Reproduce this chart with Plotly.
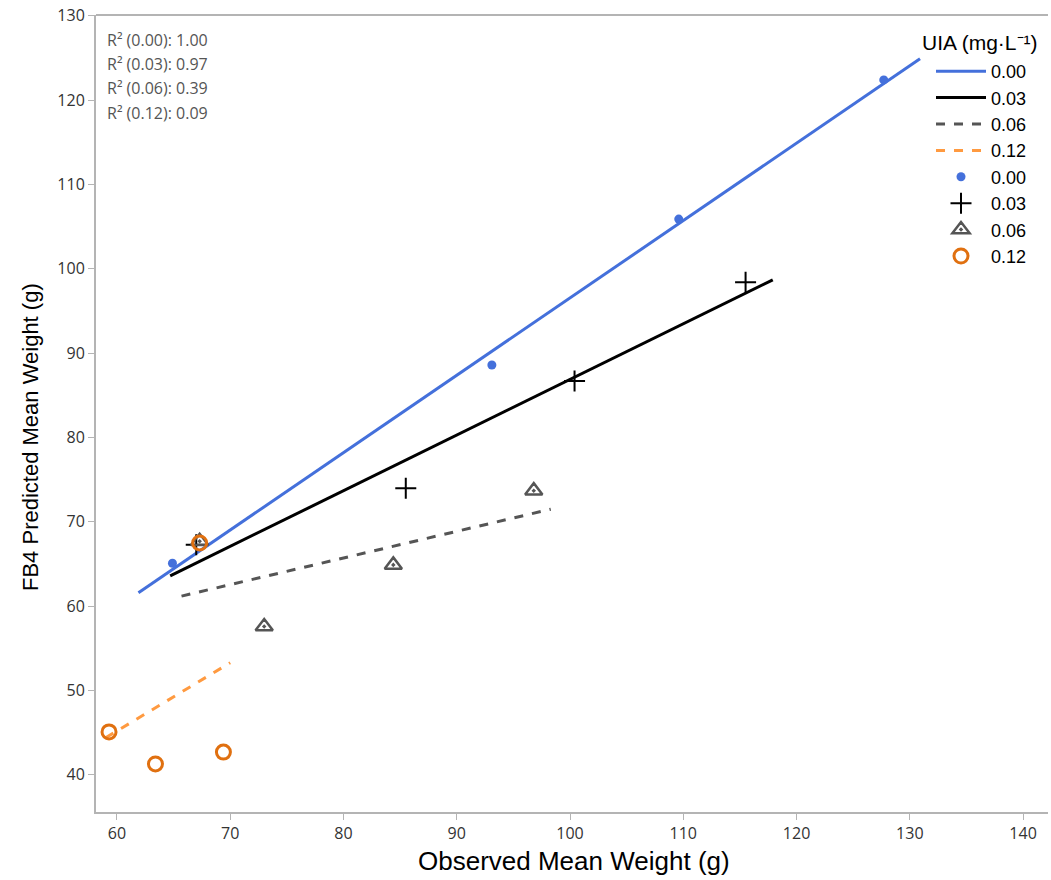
import plotly.graph_objects as go

groups = ["0.00", "0.03", "0.06", "0.12"]

obs_000 = [64.9, 93.1, 109.6, 127.7]
pred_000 = [65.1, 88.6, 105.9, 122.4]
obs_003 = [67.0, 85.5, 100.4, 115.5]
pred_003 = [67.3, 74.0, 86.7, 98.4]
obs_006 = [67.3, 73.0, 84.4, 96.8]
pred_006 = [67.7, 57.6, 64.9, 73.7]
obs_012 = [59.3, 63.4, 69.4, 67.3]
pred_012 = [45.1, 41.3, 42.7, 67.5]

fit_x_000 = [61.9, 130.9]
fit_y_000 = [61.6, 124.9]
fit_x_003 = [64.7, 117.9]
fit_y_003 = [63.6, 98.7]
fit_x_006 = [65.7, 98.3]
fit_y_006 = [61.2, 71.5]
fit_x_012 = [59.0, 70.0]
fit_y_012 = [44.4, 53.3]

r2_values = ["1.00", "0.97", "0.39", "0.09"]

x_ticks = [60, 70, 80, 90, 100, 110, 120, 130, 140]
y_ticks = [40, 50, 60, 70, 80, 90, 100, 110, 120, 130]

W, H = 1051, 880
ML, MR, MT, MB = 96, 3, 15, 68
PW, PH = W - ML - MR, H - MT - MB


def px_x(p):
    return (p - ML) / PW


def px_y(p):
    return 1 - (p - MT) / PH


fig = go.Figure()

line_styles = [
    (fit_x_000, fit_y_000, "#4470DB", "solid"),
    (fit_x_003, fit_y_003, "#000000", "solid"),
    (fit_x_006, fit_y_006, "#555555", "dash"),
    (fit_x_012, fit_y_012, "#FF9A40", "dash"),
]
for g, (fx, fy, c, d) in zip(groups, line_styles):
    fig.add_trace(go.Scatter(x=fx, y=fy, mode="lines", name=g,
                             line=dict(color=c, width=3, dash=d)))

marker_styles = [
    (obs_000, pred_000, dict(symbol="circle", size=9, color="#4470DB")),
    (obs_003, pred_003, dict(symbol="cross-thin-open", size=15, color="#000000",
                             line=dict(width=2, color="#000000"))),
    (obs_006, pred_006, dict(symbol="triangle-up-open-dot", size=15, color="#555555",
                             line=dict(width=2.5, color="#555555"))),
    (obs_012, pred_012, dict(symbol="circle-open", size=14, color="#E07010",
                             line=dict(width=3, color="#E07010"))),
]
for g, (ox, oy, m) in zip(groups, marker_styles):
    fig.add_trace(go.Scatter(x=ox, y=oy, mode="markers", name=g, marker=m))

for i, (g, v) in enumerate(zip(groups, r2_values)):
    fig.add_annotation(x=px_x(105), y=px_y(40 + 24.2 * i), xref="paper", yref="paper",
                       xanchor="left", yanchor="middle", showarrow=False, align="left",
                       text=f"R² ({g}): {v}",
                       font=dict(family="Open Sans", size=16, color="#555555"))

# axis titles
fig.add_annotation(x=px_x(574), y=px_y(861), xref="paper", yref="paper",
                   xanchor="center", yanchor="middle", showarrow=False,
                   text="Observed Mean Weight (g)",
                   font=dict(family="Liberation Sans", size=26, color="#000000"))
fig.add_annotation(x=px_x(30), y=px_y(437), xref="paper", yref="paper",
                   xanchor="center", yanchor="middle", showarrow=False, textangle=-90,
                   text="FB4 Predicted Mean Weight (g)",
                   font=dict(family="Liberation Sans", size=22, color="#000000"))

# legend title
fig.add_annotation(x=px_x(920), y=px_y(42), xref="paper", yref="paper",
                   xanchor="left", yanchor="middle", showarrow=False,
                   text="UIA (mg·L⁻¹)",
                   font=dict(family="Liberation Sans", size=21, color="#000000"))

fig.add_shape(type="line", xref="paper", yref="paper", x0=0, x1=1, y0=1, y1=1,
              line=dict(color="#B4B4B4", width=2))

axis_common = dict(showgrid=False, zeroline=False, showline=True, linecolor="#B4B4B4",
                   linewidth=2, ticks="outside", ticklen=6, tickcolor="#B4B4B4", tickwidth=1,
                   tickfont=dict(family="Open Sans", size=16, color="#333333"))

fig.update_layout(
    width=W, height=H,
    margin=dict(l=ML, r=MR, t=MT, b=MB),
    plot_bgcolor="white", paper_bgcolor="white",
    xaxis=dict(range=[58.15, 142.2], tickvals=x_ticks, **axis_common),
    yaxis=dict(range=[35.6, 130.1], tickvals=y_ticks, **axis_common),
    legend=dict(x=px_x(931), y=px_y(53), xanchor="left", yanchor="top",
                font=dict(family="Liberation Sans", size=18, color="#000"),
                bgcolor="rgba(0,0,0,0)", tracegroupgap=0, itemwidth=50),
    showlegend=True,
)

fig.write_html("out.html")
